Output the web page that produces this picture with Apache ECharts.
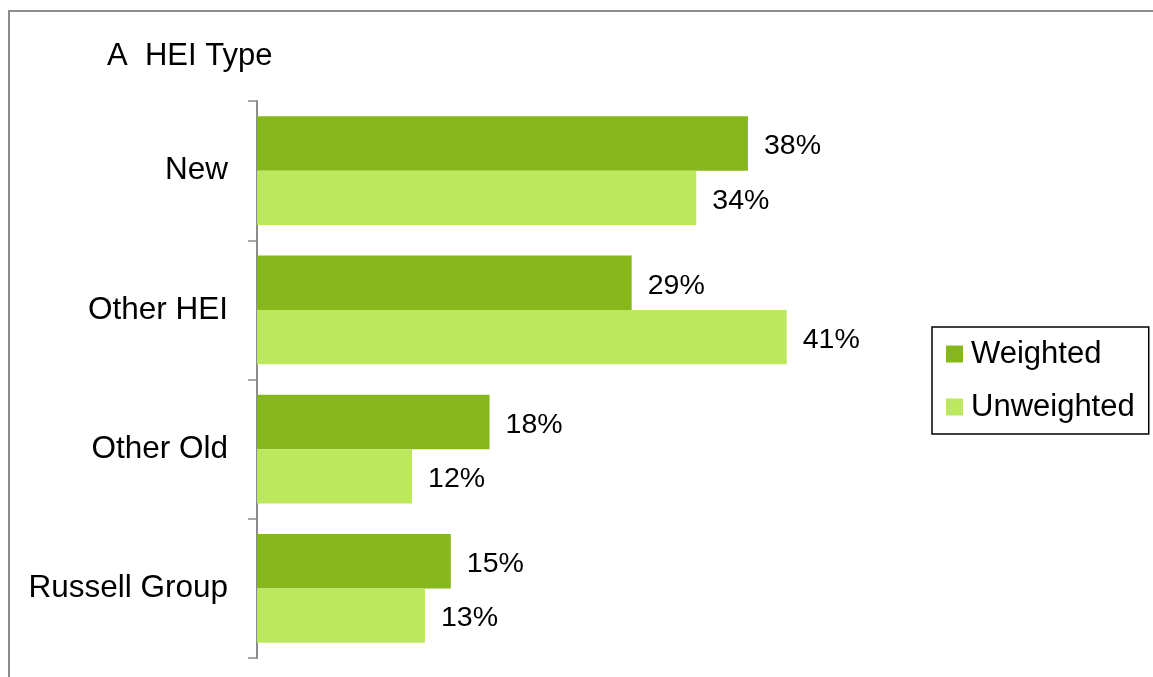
<!DOCTYPE html>
<html>
<head>
<meta charset="utf-8">
<script src="https://cdn.jsdelivr.net/npm/echarts@6/dist/echarts.min.js"></script>
<style>
html,body{margin:0;padding:0;background:#fff;}
#chart{width:1153px;height:677px;}
</style>
</head>
<body>
<div id="chart"></div>
<script>
const categories = ['New', 'Other HEI', 'Other Old', 'Russell Group'];
const weighted = [38, 29, 18, 15];
const unweighted = [34, 41, 12, 13];
const seriesNames = ['Weighted', 'Unweighted'];
const titleText = 'A  HEI Type';

const FONT = 'Arial, "Liberation Sans", sans-serif';
const chart = echarts.init(document.getElementById('chart'), null, {renderer: 'canvas'});
chart.setOption({
  animation: false,
  backgroundColor: '#fff',
  graphic: [{
    type: 'rect',
    shape: {x: 9, y: 11, width: 1300, height: 800},
    style: {fill: 'none', stroke: '#8c8c8c', lineWidth: 2},
    silent: true
  }],
  title: {
    text: titleText,
    left: 102,
    top: 36,
    textStyle: {fontFamily: FONT, fontSize: 31, fontWeight: 'normal', color: '#000'}
  },
  legend: {
    orient: 'vertical',
    left: 932,
    top: 327,
    padding: [9, 14, 9, 14],
    itemGap: 17,
    itemWidth: 17,
    itemHeight: 17,
    borderColor: '#000',
    borderWidth: 1.5,
    icon: 'rect',
    textStyle: {fontFamily: FONT, fontSize: 31, color: '#000', lineHeight: 34, padding: [2, 0, 0, 3]},
    data: seriesNames
  },
  grid: {left: 257, right: 250, top: 101, bottom: 19, containLabel: false},
  xAxis: {type: 'value', min: 0, max: 50, show: false},
  yAxis: {
    type: 'category',
    inverse: true,
    data: categories,
    axisLine: {show: true, lineStyle: {color: '#8c8c8c', width: 2}},
    axisTick: {show: true, length: 9, lineStyle: {color: '#8c8c8c', width: 1.5}},
    axisLabel: {fontFamily: FONT, fontSize: 31.5, color: '#000', margin: 29, padding: [6, 0, 0, 0]}
  },
  series: [
    {
      name: seriesNames[0], type: 'bar', data: weighted,
      barGap: '0%', barCategoryGap: '22%',
      itemStyle: {color: '#86B81C'},
      label: {show: true, position: 'right', distance: 16, offset: [0, 3], formatter: '{c}%', fontFamily: FONT, fontSize: 28.5, color: '#000'}
    },
    {
      name: seriesNames[1], type: 'bar', data: unweighted,
      barGap: '0%', barCategoryGap: '22%',
      itemStyle: {color: '#BBE85C'},
      label: {show: true, position: 'right', distance: 16, offset: [0, 3], formatter: '{c}%', fontFamily: FONT, fontSize: 28.5, color: '#000'}
    }
  ]
});
</script>
</body>
</html>
